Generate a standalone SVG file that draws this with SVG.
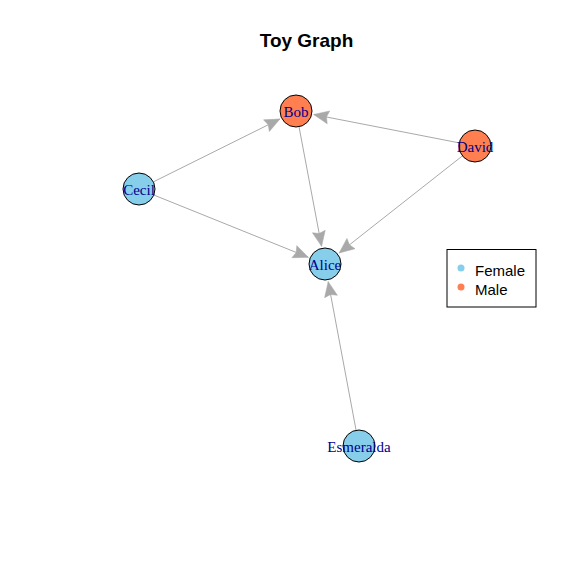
<svg xmlns="http://www.w3.org/2000/svg" width="576" height="576" viewBox="0 0 576 576">
<style>
.edge{stroke:#A9A9A9;stroke-width:1;fill:none;marker-end:url(#arr)}
.node{stroke:#000;stroke-width:1}
.f{fill:#87CEEB}
.m{fill:#FF7F50}
.lbl{font-family:"Liberation Serif",serif;font-size:15px;fill:#00008B;text-anchor:middle}
.leg{font-family:"Liberation Sans",Arial,sans-serif;font-size:15px;fill:#000}
</style>
<defs>
<marker id="arr" markerUnits="userSpaceOnUse" markerWidth="18" markerHeight="16" viewBox="-16 -8 18 16" refX="0" refY="0" orient="auto">
<path d="M0,0 L-15,-6.5 L-13,0 L-15,6.5 Z" fill="#A9A9A9" stroke="#A9A9A9" stroke-width="0.5" stroke-linejoin="round"/>
</marker>
</defs>
<rect width="576" height="576" fill="#fff"/>
<text x="306.5" y="47" font-family="Liberation Sans,Arial,sans-serif" font-size="19" font-weight="bold" text-anchor="middle">Toy Graph</text>
<g id="edges">
<line class="edge" x1="153.3" y1="181.9" x2="279.9" y2="119"/>
<line class="edge" x1="459.3" y1="142.9" x2="313.7" y2="114.5"/>
<line class="edge" x1="299" y1="126.7" x2="321.6" y2="246.3"/>
<line class="edge" x1="462.4" y1="155.9" x2="339.2" y2="252.9"/>
<line class="edge" x1="153.8" y1="195" x2="308.3" y2="257.3"/>
<line class="edge" x1="356.1" y1="430.3" x2="328.2" y2="281.7"/>
</g>
<g id="Bob"><circle class="node m" cx="296" cy="111" r="16"/><text class="lbl" x="296" y="116.5">Bob</text></g>
<g id="David"><circle class="node m" cx="475" cy="146" r="16"/><text class="lbl" x="475" y="151.5">David</text></g>
<g id="Cecil"><circle class="node f" cx="139" cy="189" r="16"/><text class="lbl" x="139" y="194.5">Cecil</text></g>
<g id="Alice"><circle class="node f" cx="325" cy="264" r="16"/><text class="lbl" x="325" y="269.5">Alice</text></g>
<g id="Esmeralda"><circle class="node f" cx="359" cy="446" r="16"/><text class="lbl" x="359" y="451.5">Esmeralda</text></g>
<g id="legend">
<rect x="447" y="249.5" width="89" height="57.5" fill="none" stroke="#000" stroke-width="1"/>
<circle cx="461" cy="268" r="3.5" fill="#87CEEB"/>
<circle cx="461" cy="287" r="3.5" fill="#FF7F50"/>
<text class="leg" x="475" y="275.5">Female</text>
<text class="leg" x="475" y="294.5">Male</text>
</g>
</svg>
